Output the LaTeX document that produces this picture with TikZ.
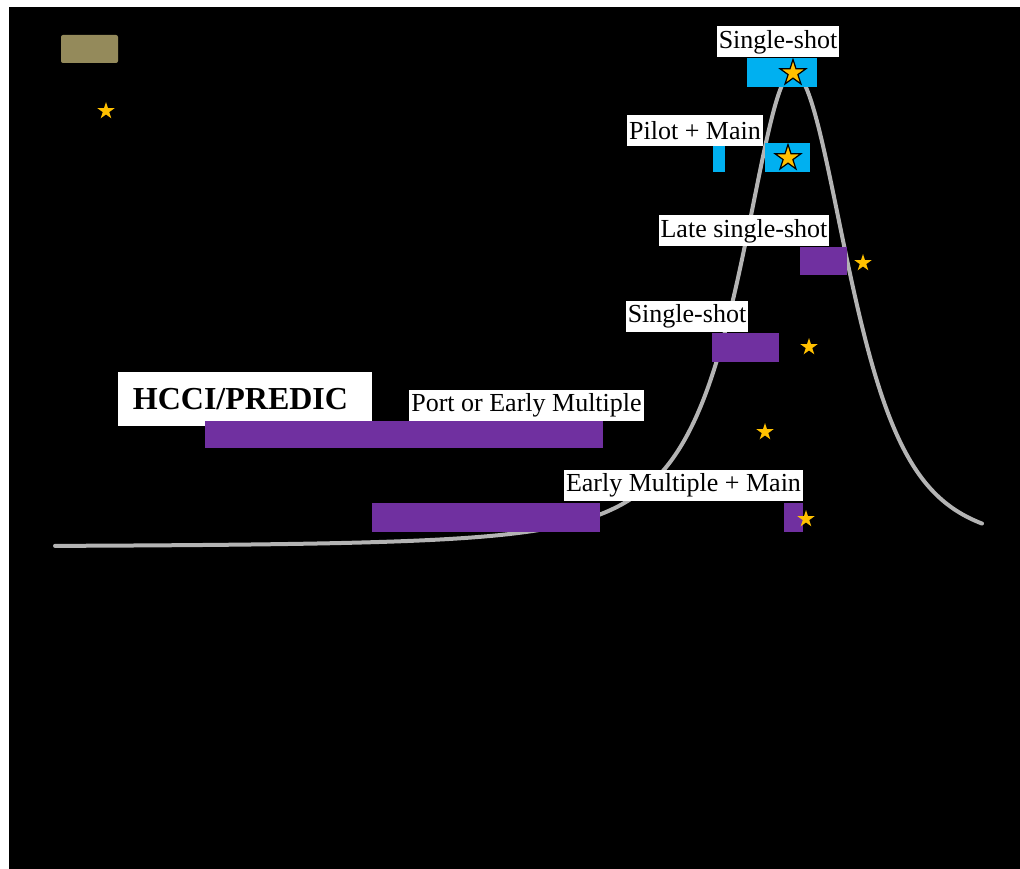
\documentclass[tikz,border=0pt]{standalone}
\usepackage{fontspec}
\setmainfont{Liberation Serif}
\usetikzlibrary{shapes.geometric}
\definecolor{olivebox}{HTML}{948A5B}
\definecolor{skyblue}{HTML}{00B0F0}
\definecolor{violet}{HTML}{7030A0}
\definecolor{curvegray}{HTML}{B4B4B4}
\definecolor{gold}{HTML}{FFC000}
\begin{document}
\begin{tikzpicture}[x=1pt,y=-1pt,
  lbl/.style={fill=white, text=black, inner xsep=2pt, inner ysep=0pt, minimum height=31pt,
    font=\fontsize{26}{31}\selectfont, anchor=center},
  bigstar/.style={star, star points=5, star point ratio=2.618, fill=gold, draw=black,
    line width=1.2pt, minimum size=27pt, inner sep=0pt},
  smallstar/.style={star, star points=5, star point ratio=2.618, fill=gold,
    minimum size=18pt, inner sep=0pt},
  bluebar/.style={fill=skyblue},
  purplebar/.style={fill=violet},
  curve/.style={draw=curvegray, line width=4pt, line cap=round, line join=round}
]
\useasboundingbox (0,0) rectangle (1020,869);
\fill[white] (0,0) rectangle (1020,869);
\fill[black] (9,7) rectangle (1020,869);

% legend-like box and star
\fill[olivebox, rounded corners=2pt] (61,35) rectangle (118,63);
\node[smallstar] (s0) at (106,111) {};

% curve (peak at x=793)
\draw[curve] plot[domain=55:793, samples=200, smooth]
   (\x, {547-475/pow(1+((\x-793)/75)^2,1.32)})
  -- plot[domain=793:982, samples=120, smooth]
   (\x, {547-475/((1+((\x-793)/101)^2)^2)});

% HCCI box (behind the bar)
\node[fill=white, text=black, minimum width=254pt, minimum height=54pt, inner sep=0pt,
  font=\fontsize{32}{36}\selectfont\bfseries] (hcci) at (245,399) {HCCI/PREDIC\hspace*{9pt}};

% bars
\fill[bluebar] (747,58) rectangle (817,87);
\fill[bluebar] (713,145) rectangle (725,172);
\fill[bluebar] (765,143) rectangle (810,172);
\fill[purplebar] (800,247) rectangle (847,275);
\fill[purplebar] (712,333) rectangle (779,362);
\fill[purplebar] (205,421) rectangle (603,448);
\fill[purplebar] (372,503) rectangle (600,532);
\fill[purplebar] (784,503) rectangle (803,532);

% labels
\node[lbl] (l1) at (778,42) {Single-shot};
\node[lbl] (l2) at (695,130.5) {Pilot + Main};
\node[lbl] (l3) at (744,231) {Late single-shot};
\node[lbl] (l4) at (687,316) {Single-shot};
\node[lbl] (l5) at (526.5,405) {Port or Early Multiple};
\node[lbl] (l6) at (683.5,485) {Early Multiple + Main};

% stars
\node[bigstar] (s1) at (793,73) {};
\node[bigstar] (s2) at (788,158) {};
\node[smallstar] (s3) at (863,263) {};
\node[smallstar] (s4) at (809,347) {};
\node[smallstar] (s5) at (765,432) {};
\node[smallstar] (s6) at (806,519) {};
\end{tikzpicture}
\end{document}
